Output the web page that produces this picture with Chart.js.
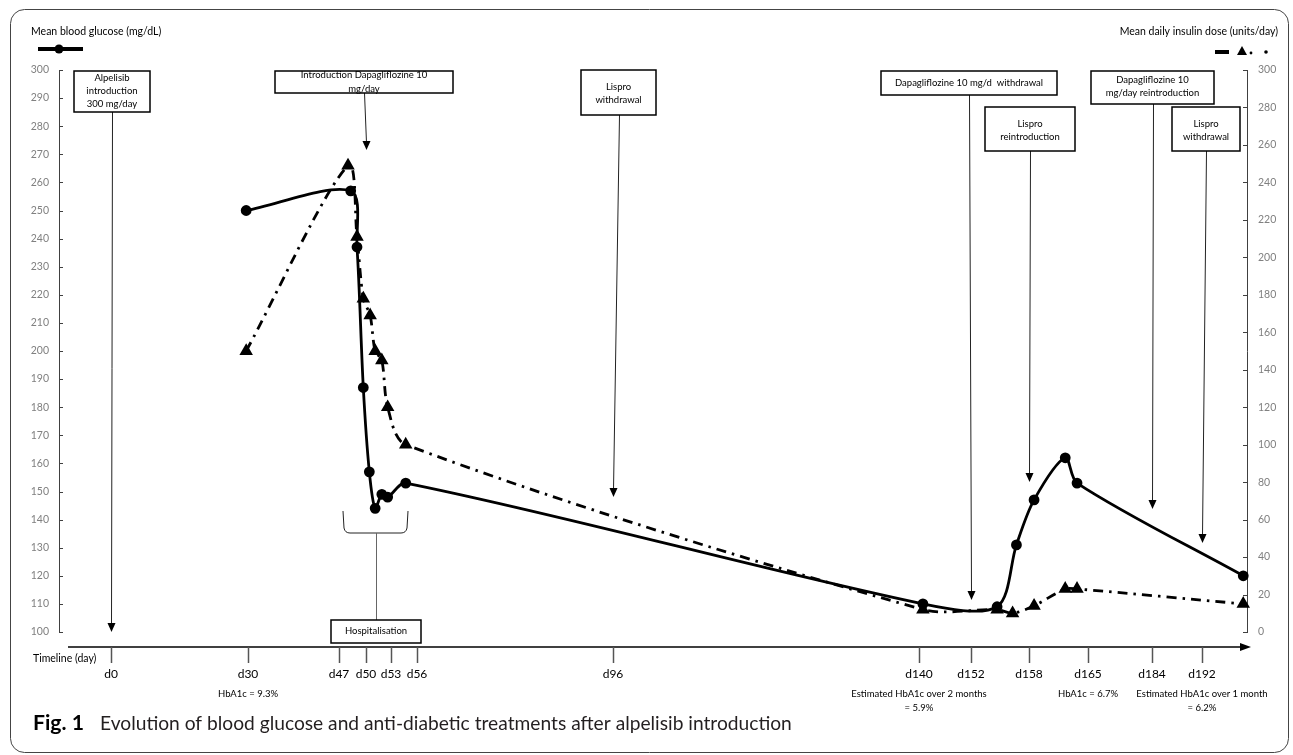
<!DOCTYPE html>
<html>
<head>
<meta charset="utf-8">
<script src="https://cdn.jsdelivr.net/npm/chart.js@4.4.1/dist/chart.umd.min.js"></script>
<style>
  html, body { margin: 0; padding: 0; background: #fff; }
</style>
</head>
<body>
<canvas id="miGrafico" width="1293" height="755"></canvas>
<script>
var ctx = document.getElementById('miGrafico').getContext('2d');

// Timeline days shown on the axis, and where each one sits along it (the axis is not to scale)
var tickDays = [0, 30, 47, 50, 53, 56, 96, 140, 152, 158, 165, 184, 192];
var tickPos  = [111, 248, 339, 366, 391, 417, 613, 919, 971, 1029, 1088, 1152, 1202];

// Mean blood glucose (mg/dL)
var glucoseDays   = [29.6, 48.3, 49.0, 49.7, 50.4, 51.1, 51.9, 52.6, 54.7, 140.9, 154.7, 156.7, 158.6, 162.3, 163.7, 198.6];
var glucoseValues = [250, 257, 237, 187, 157, 144, 149, 148, 153, 110, 109, 131, 147, 162, 153, 120];

// Mean daily insulin dose (units/day)
var insulinDays   = [29.6, 48.0, 49.0, 49.7, 50.5, 51.1, 51.9, 52.6, 54.7, 140.9, 154.7, 156.3, 158.6, 162.3, 163.7, 198.6];
var insulinValues = [150, 249, 211, 178, 169, 150, 145, 120, 100, 12, 12, 10, 14, 23, 23, 15];

// Treatment events (day, text, glucose level the arrow points to)
var eventDays  = [0, 50, 96, 152, 158, 184, 192];
var eventTexts = [
  ['Alpelisib', 'introduction', '300 mg/day'],
  ['Introduction Dapagliflozine 10', 'mg/day'],
  ['Lispro', 'withdrawal'],
  ['Dapagliflozine 10 mg/d  withdrawal'],
  ['Lispro', 'reintroduction'],
  ['Dapagliflozine 10', 'mg/day reintroduction'],
  ['Lispro', 'withdrawal']
];
var eventTips = [100, 271.5, 148, 111.4, 153.4, 143.8, 131.7];
// box layout: left, top, width, height, first text line y, line gap
var eventBoxes = [
  [74, 71, 76, 41, 78, 13],
  [275, 71, 178, 22, 75, 14],
  [581, 70, 75, 45, 87, 13],
  [881, 71, 176, 24, 83, 13],
  [985, 107, 90, 44, 124, 13],
  [1091, 71, 123, 33, 80, 13],
  [1172, 107, 68, 44, 124, 13]
];

// HbA1c notes under the timeline
var noteDays  = [30, 140, 165, 192];
var noteTexts = [
  ['HbA1c = 9.3%'],
  ['Estimated HbA1c over 2 months', '= 5.9%'],
  ['HbA1c = 6.7%'],
  ['Estimated HbA1c over 1 month', '= 6.2%']
];

var FONT = 'Lato, "Open Sans", sans-serif';

function dayToPos(d) {
  for (var i = 1; i < tickDays.length; i++) {
    if (d <= tickDays[i] || i === tickDays.length - 1) {
      var t = (d - tickDays[i - 1]) / (tickDays[i] - tickDays[i - 1]);
      return tickPos[i - 1] + t * (tickPos[i] - tickPos[i - 1]);
    }
  }
}

function arrowDown(c, x0, y0, x1, y1) {
  c.strokeStyle = '#222';
  c.lineWidth = 1;
  c.beginPath();
  c.moveTo(x0, y0);
  c.lineTo(x1, y1 - 7);
  c.stroke();
  c.fillStyle = '#000';
  c.beginPath();
  c.moveTo(x1, y1);
  c.lineTo(x1 - 4, y1 - 9);
  c.lineTo(x1 + 4, y1 - 9);
  c.closePath();
  c.fill();
}

function drawBox(c, b, lines) {
  c.fillStyle = '#fff';
  c.fillRect(b[0], b[1], b[2], b[3]);
  c.strokeStyle = '#000';
  c.lineWidth = 1.5;
  c.strokeRect(b[0], b[1], b[2], b[3]);
  c.fillStyle = '#000';
  c.font = '9.5px ' + FONT;
  c.textAlign = 'center';
  c.textBaseline = 'middle';
  for (var i = 0; i < lines.length; i++) {
    c.fillText(lines[i], b[0] + b[2] / 2, b[4] + i * b[5]);
  }
}

// font size that makes a text span a given width
function fitSize(c, text, weight, width) {
  c.font = weight + ' 20px ' + FONT;
  return 20 * width / c.measureText(text).width;
}

var decor = {
  id: 'decor',
  afterDraw: function (chart) {
    var c = chart.ctx;
    var xs = chart.scales.x, ys = chart.scales.y, ys1 = chart.scales.y1;
    c.save();

    // frame
    c.strokeStyle = '#444';
    c.lineWidth = 1;
    c.beginPath();
    c.roundRect(10.5, 9.5, 1278, 743, 14);
    c.stroke();

    // inside tick marks on both value axes
    c.strokeStyle = '#404040';
    ys.ticks.forEach(function (t) {
      var y = Math.round(ys.getPixelForValue(t.value)) + 0.5;
      c.beginPath(); c.moveTo(ys.right, y); c.lineTo(ys.right + 4, y); c.stroke();
    });
    ys1.ticks.forEach(function (t) {
      var y = Math.round(ys1.getPixelForValue(t.value)) + 0.5;
      c.beginPath(); c.moveTo(ys1.left, y); c.lineTo(ys1.left - 4, y); c.stroke();
    });

    // legends
    c.fillStyle = '#000';
    c.font = '10.5px ' + FONT;
    c.textBaseline = 'middle';
    c.textAlign = 'left';
    c.fillText('Mean blood glucose (mg/dL)', 31, 32);
    c.textAlign = 'right';
    c.fillText('Mean daily insulin dose (units/day)', 1278, 32);
    c.strokeStyle = '#000';
    c.lineWidth = 4;
    c.beginPath(); c.moveTo(38, 49); c.lineTo(83, 49); c.stroke();
    c.beginPath(); c.arc(59, 49, 4.5, 0, Math.PI * 2); c.fill();
    c.beginPath(); c.moveTo(1215, 52); c.lineTo(1229, 52); c.stroke();
    c.beginPath(); c.moveTo(1242, 46); c.lineTo(1247, 55); c.lineTo(1237, 55); c.closePath(); c.fill();
    c.beginPath(); c.arc(1251, 53, 1.4, 0, Math.PI * 2); c.fill();
    c.beginPath(); c.arc(1266, 52, 1.8, 0, Math.PI * 2); c.fill();

    // timeline axis with arrow
    c.strokeStyle = '#000';
    c.lineWidth = 1.5;
    c.beginPath(); c.moveTo(68, 647); c.lineTo(1242, 647); c.stroke();
    c.beginPath(); c.moveTo(1251, 647); c.lineTo(1240, 643); c.lineTo(1240, 651); c.closePath(); c.fill();
    c.strokeStyle = '#555';
    tickDays.forEach(function (d) {
      var x = Math.round(xs.getPixelForValue(dayToPos(d))) + 0.5;
      c.beginPath(); c.moveTo(x, 647); c.lineTo(x, 663); c.stroke();
    });
    c.fillStyle = '#000';
    c.font = '10.5px ' + FONT;
    c.textAlign = 'left';
    c.fillText('Timeline (day)', 33, 659);

    // HbA1c notes
    c.font = '9.5px ' + FONT;
    c.textAlign = 'center';
    noteDays.forEach(function (d, i) {
      var x = xs.getPixelForValue(dayToPos(d));
      noteTexts[i].forEach(function (t, j) { c.fillText(t, x, 694 + j * 14); });
    });

    // hospitalisation bracket
    c.strokeStyle = '#222';
    c.lineWidth = 1;
    c.beginPath();
    c.moveTo(343, 511); c.lineTo(344, 528);
    c.quadraticCurveTo(345, 533, 350, 533);
    c.lineTo(401, 533);
    c.quadraticCurveTo(406, 533, 407, 528);
    c.lineTo(408, 511);
    c.stroke();
    c.strokeStyle = '#666';
    c.beginPath(); c.moveTo(376.5, 533); c.lineTo(376.5, 620); c.stroke();
    drawBox(c, [331, 620, 90, 23, 631, 0], ['Hospitalisation']);

    // treatment events
    eventDays.forEach(function (d, i) {
      var b = eventBoxes[i];
      var x1 = xs.getPixelForValue(dayToPos(d));
      var y1 = ys.getPixelForValue(eventTips[i]);
      arrowDown(c, Math.round(b[0] + b[2] / 2) + 0.5, b[1] + b[3], Math.round(x1) + 0.5, y1);
      drawBox(c, b, eventTexts[i]);
    });

    // caption
    var figText = 'Fig. 1';
    var capText = 'Evolution of blood glucose and anti-diabetic treatments after alpelisib introduction';
    var capSize = fitSize(c, capText, 'normal', 692);
    var figSize = Math.min(fitSize(c, figText, 'bold', 54), capSize + 2);
    c.textAlign = 'left';
    c.textBaseline = 'alphabetic';
    c.fillStyle = '#000';
    c.font = 'bold ' + figSize + 'px ' + FONT;
    c.fillText(figText, 33, 730);
    c.fillStyle = '#231f20';
    c.font = 'normal ' + capSize + 'px ' + FONT;
    c.fillText(capText, 100, 730);

    c.restore();
  }
};

var tickFont = { family: FONT, size: 10.5 };

var miGrafico = new Chart(ctx, {
  type: 'line',
  data: {
    datasets: [{
      label: 'Mean blood glucose (mg/dL)',
      data: glucoseDays.map(function (d, i) { return { x: dayToPos(d), y: glucoseValues[i] }; }),
      yAxisID: 'y',
      borderColor: '#000',
      backgroundColor: '#000',
      borderWidth: 2.8,
      pointStyle: 'circle',
      pointRadius: 4,
      tension: 0.3,
      clip: false
    }, {
      label: 'Mean daily insulin dose (units/day)',
      data: insulinDays.map(function (d, i) { return { x: dayToPos(d), y: insulinValues[i] }; }),
      yAxisID: 'y1',
      borderColor: '#000',
      backgroundColor: '#000',
      borderWidth: 2.8,
      borderDash: [10, 6, 2.5, 6],
      pointStyle: 'triangle',
      pointRadius: 5,
      tension: 0.3,
      clip: false
    }]
  },
  options: {
    responsive: false,
    animation: false,
    events: [],
    layout: { padding: { top: 70, left: 0, right: 0, bottom: 0 } },
    plugins: { legend: { display: false }, tooltip: { enabled: false } },
    scales: {
      x: {
        type: 'linear',
        min: 59,
        max: 1247,
        grid: { display: false, drawTicks: false },
        border: { display: false },
        afterBuildTicks: function (s) {
          s.ticks = tickDays.map(function (d) { return { value: dayToPos(d) }; });
        },
        afterFit: function (s) { s.height = 123; },
        ticks: {
          autoSkip: false,
          maxRotation: 0,
          padding: 35,
          color: '#000',
          font: { family: FONT, size: 12 },
          callback: function (v, i) { return 'd' + tickDays[i]; }
        }
      },
      y: {
        position: 'left',
        min: 100,
        max: 300,
        afterFit: function (s) { s.width = 59; },
        grid: { display: false, drawTicks: false },
        border: { display: true, color: '#404040', width: 1 },
        ticks: { stepSize: 10, padding: 10, color: '#808080', font: tickFont }
      },
      y1: {
        position: 'right',
        min: 0,
        max: 300,
        afterFit: function (s) { s.width = 46; },
        grid: { display: false, drawTicks: false },
        border: { display: true, color: '#404040', width: 1 },
        ticks: { stepSize: 20, padding: 11, color: '#808080', font: tickFont }
      }
    }
  },
  plugins: [decor]
});
</script>
</body>
</html>
